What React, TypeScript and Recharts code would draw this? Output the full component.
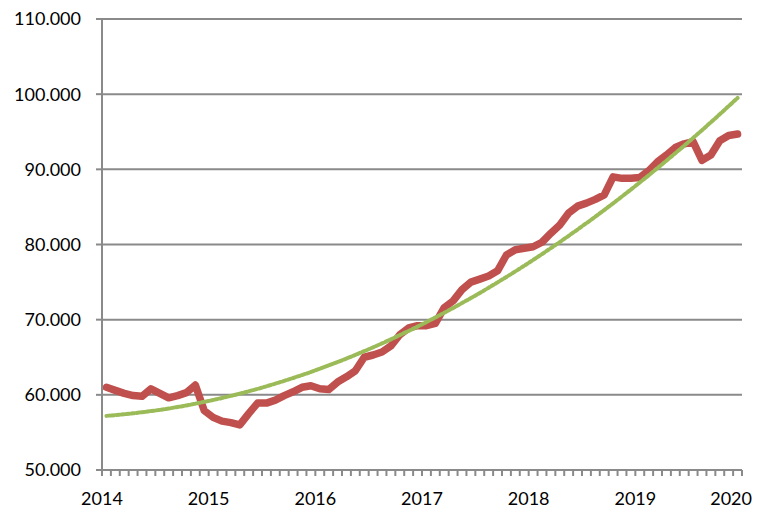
import React from 'react';
import { LineChart, Line, XAxis, YAxis, CartesianGrid } from 'recharts';

const yearLabels = ['2014', '2015', '2016', '2017', '2018', '2019', '2020'];
const yTicks = [50, 60, 70, 80, 90, 100, 110];

// monthly index values, Jan 2014 .. Dec 2019
const priceValues = [
  61.0, 60.6, 60.2, 59.9, 59.8, 60.8, 60.2, 59.6, 59.9, 60.3, 61.3, 57.9,
  57.0, 56.5, 56.3, 56.0, 57.5, 58.9, 58.9, 59.3, 59.9, 60.4, 61.0, 61.2,
  60.8, 60.7, 61.7, 62.4, 63.2, 65.0, 65.3, 65.7, 66.5, 68.0, 68.9, 69.2,
  69.2, 69.5, 71.6, 72.5, 74.0, 75.0, 75.4, 75.8, 76.5, 78.6, 79.3, 79.5,
  79.7, 80.3, 81.5, 82.6, 84.2, 85.1, 85.5, 86.0, 86.6, 89.0, 88.8, 88.8,
  88.9, 89.8, 91.0, 91.9, 92.9, 93.4, 93.7, 91.2, 91.9, 93.8, 94.5, 94.7,
];

// polynomial trend line as drawn
const trendValues = [
  57.2, 57.3, 57.41, 57.54, 57.68, 57.83, 58.0, 58.18, 58.38, 58.59, 58.82, 59.06,
  59.31, 59.58, 59.86, 60.16, 60.47, 60.79, 61.13, 61.49, 61.86, 62.24, 62.63, 63.04,
  63.47, 63.91, 64.36, 64.83, 65.31, 65.81, 66.32, 66.84, 67.38, 67.94, 68.5, 69.08,
  69.68, 70.29, 70.91, 71.55, 72.21, 72.87, 73.55, 74.25, 74.96, 75.68, 76.42, 77.17,
  77.94, 78.72, 79.52, 80.32, 81.15, 81.99, 82.84, 83.7, 84.58, 85.48, 86.39, 87.31,
  88.25, 89.2, 90.17, 91.15, 92.14, 93.15, 94.17, 95.21, 96.26, 97.33, 98.41, 99.5,
];

const monthTicks = Array.from({ length: 73 }, (_, i) => i);

const data = priceValues.map((v, i) => ({ m: i + 0.5, price: v, trend: trendValues[i] }));

const GRID = '#8a8a8a';
const FONT = 'Lato, "Liberation Sans", sans-serif';

const XTick = (props: any) => {
  const { x, y, payload } = props;
  const v = payload.value as number;
  if (v % 12 !== 0) return <g />;
  const last = v === 72;
  return (
    <text
      x={last ? x + 10 : x}
      y={y}
      dy="0.71em"
      textAnchor={last ? 'end' : 'middle'}
      fill="#000"
      fontSize={18}
      fontFamily={FONT}
    >
      {yearLabels[v / 12]}
    </text>
  );
};

export default function App() {
  return (
    <LineChart
      width={753}
      height={504}
      data={data}
      margin={{ top: 11, right: 19, bottom: 12, left: 0 }}
      style={{ fontFamily: FONT }}
    >
      <CartesianGrid vertical={false} stroke={GRID} strokeWidth={2} />
      <XAxis
        type="number"
        dataKey="m"
        domain={[0, 72]}
        ticks={monthTicks}
        interval={0}
        tick={<XTick />}
        tickSize={6}
        tickMargin={16}
        height={30}
        stroke={GRID}
        strokeWidth={2}
        allowDataOverflow
      />
      <YAxis
        type="number"
        domain={[50, 110]}
        ticks={yTicks}
        interval={0}
        width={94}
        tickSize={6}
        tickMargin={15}
        stroke={GRID}
        strokeWidth={2}
        tick={{ fill: '#000', fontSize: 18, fontFamily: FONT }}
        tickFormatter={(v: number) => `${v}.000`}
      />
      <Line
        type="linear"
        dataKey="price"
        stroke="#C0504D"
        strokeWidth={7.5}
        strokeLinejoin="round"
        strokeLinecap="round"
        dot={false}
        isAnimationActive={false}
      />
      <Line
        type="linear"
        dataKey="trend"
        stroke="#9BBB59"
        strokeWidth={4}
        strokeDasharray="3 2"
        strokeLinecap="round"
        dot={false}
        isAnimationActive={false}
      />
    </LineChart>
  );
}
